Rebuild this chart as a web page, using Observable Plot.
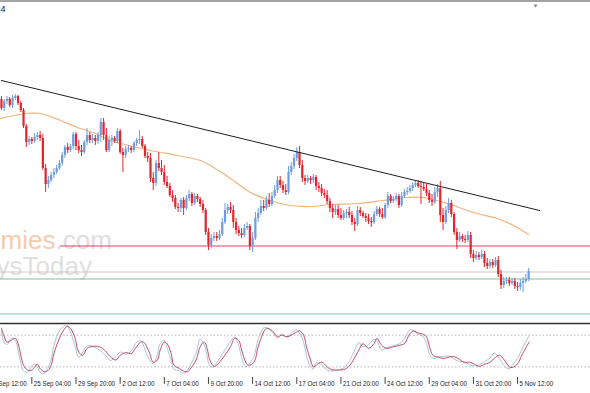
<!DOCTYPE html>
<html>
<head>
<meta charset="utf-8">
<script src="https://cdn.jsdelivr.net/npm/d3@7"></script>
<script src="https://cdn.jsdelivr.net/npm/@observablehq/plot@0.6"></script>
<style>
  html, body { margin: 0; padding: 0; background: #fff; overflow: hidden; }
  #chart { width: 590px; height: 393px; box-sizing: border-box; border-top: 2px solid #a3a3a3; background: #fff; }
  #chart svg { display: block; overflow: hidden; }
</style>
</head>
<body>
<div id="chart"></div>
<script>
// ---- H4 candles (price units) ----
const open = [301,292,299,301,295,302,304,297,290,274,
258,261,259,263,265,262,232,216,220,225,
228,232,237,245,253,250,254,266,254,250,
248,258,265,260,262,259,265,278,265,250,
260,262,259,269,248,245,251,252,250,257,
260,261,254,244,242,222,217,237,232,228,
218,214,205,202,193,192,200,192,202,206,
197,204,201,196,190,168,155,162,164,162,
166,178,190,193,190,178,170,167,165,172,
174,154,162,182,187,194,192,200,196,204,
210,220,215,210,208,228,234,242,248,235,
222,219,222,220,223,214,212,207,205,199,
192,188,191,185,182,187,188,185,178,176,
190,187,184,182,179,178,186,191,186,183,
195,204,199,201,204,195,204,208,209,212,
215,217,214,213,211,207,200,198,208,212,
185,178,190,197,186,168,160,164,161,160,
165,146,142,145,143,146,137,134,138,135,
140,126,115,119,120,117,119,114,113,117,
119,121];
const close = [292,299,301,295,302,304,297,290,274,258,
261,259,263,265,262,232,216,220,225,228,
232,237,245,253,250,254,266,254,250,248,
258,265,260,262,259,265,278,265,250,260,
262,259,269,248,245,251,252,250,257,260,
261,254,244,242,222,217,237,232,228,218,
214,205,202,193,192,200,192,202,206,197,
204,201,196,190,168,155,162,164,162,166,
178,190,193,190,178,170,167,165,172,174,
154,162,182,187,194,192,200,196,204,210,
220,215,210,208,228,234,242,248,235,222,
219,222,220,223,214,212,207,205,199,192,
188,191,185,182,187,188,185,178,176,190,
187,184,182,179,178,186,191,186,183,195,
204,199,201,204,195,204,208,209,212,215,
217,214,213,211,207,200,198,208,212,185,
178,190,197,186,168,160,164,161,160,165,
146,142,145,143,146,137,134,138,135,140,
126,115,119,120,117,119,114,113,117,119,
121,129];
const high = [304,301,304,303,305,306,305,299,292,276,
264,263,267,268,269,266,236,224,228,232,
235,240,248,255,257,256,268,268,260,255,
260,272,268,266,265,268,282,282,272,264,
265,264,272,271,252,254,255,254,259,262,
270,264,256,248,247,228,240,248,240,235,
224,217,210,205,197,202,203,205,210,208,
207,206,203,200,192,172,166,168,168,170,
182,197,196,198,195,182,174,172,176,178,
176,168,188,192,200,200,204,207,208,215,
224,224,219,216,234,238,246,253,254,240,
225,225,224,226,225,218,216,211,210,202,
196,195,195,192,190,191,193,189,182,194,
193,189,187,186,183,189,194,193,192,197,
208,206,204,207,206,208,211,213,215,218,
220,220,219,217,216,210,206,213,216,219,
192,194,202,200,188,172,168,166,165,169,
168,150,149,148,150,149,142,141,141,143,
144,130,123,123,123,122,122,118,121,123,
126,132];
const low = [290,289,296,293,292,300,295,288,272,253,
255,256,257,260,259,230,208,212,218,222,
226,230,234,242,247,248,251,250,247,244,
246,255,257,257,255,256,258,260,248,248,
254,257,257,246,228,242,248,247,248,254,
256,252,242,238,218,210,214,229,225,215,
212,203,198,191,188,188,185,190,199,194,
195,198,193,187,165,150,152,159,159,160,
164,176,186,187,172,166,164,162,163,170,
150,148,160,178,185,189,190,193,194,202,
207,212,207,205,206,225,231,239,232,218,
215,217,216,217,210,208,204,202,196,188,
182,185,182,180,180,182,182,175,169,174,
184,182,178,176,173,176,184,183,181,181,
192,197,197,199,192,193,202,205,207,209,
213,212,196,209,204,197,194,196,203,178,
170,176,187,183,165,151,158,158,157,158,
142,138,140,140,141,133,131,132,132,133,
123,111,112,116,114,115,111,109,110,108,
117,119];

// ---- moving average (orange) ----
const maBar   = [-0.35,9.4,14.1,21.4,27.5,34.1,39.5,54,63.8,72.1,75.7,83,90.2,97.5,104.7,112,119.2,129,138.1,147.1,152.9,161.6,171,179.7,185.5,191];
const maPrice = [282,287,287,280,273,267,260,250,245,240,235,222,208,200,195,194,196,197,200,203,203,197,188,182,175,166];

// ---- trend line ----
const trendBar   = [0, 195];
const trendPrice = [320, 190];

// ---- horizontal levels ----
const levelPrice = [154.5, 128.5, 121.5, 86.5];
const levelFrom  = [21.4, -0.35, -0.35, -0.35];
const levelColor = ["#d9475f", "#c9c9c9", "#7fc39b", "#8cc5ae"];

// ---- stochastic oscillator ----
const stochBar = [0,1,2,3.5,5,6,7,8,9.5,11,12,13,14,15.5,17,18,19,21,23,24,25,26.5,28,29.5,31,33.5,36,38,39.5,41.5,43,45,47,48.5,50.5,51.5,53.5,55,56.5,57.5,59,60,61.5,62.5,64.5,66,67.5,68.5,70.5,72,73.5,74.5,75.5,77,78,80.5,83,84.5,86,87,88.5,89.5,91.5,93,95,96,98,100,101.5,103.5,105,107,108,109.5,110.5,112,113,114,116,118,119.5,121.5,124,125.5,127.5,129.5,131,133,135,136,137.7,139.5,142,144.3,146,148,149.4,151,152.7,154,155.1,156.3,158.1,160,162.4,164.2,166,167.8,169.6,171.4,173.2,175,176.8,178.6,180.4,182.2,184,185.2,187,188.8,190.2,191.2];
const stochD = [93,77,67,70,74,64,42,23,14,14,20,25,17,11,14,23,45,74,93,97,93,77,48,42,55,59,57,48,39,33,42,47,45,55,67,67,48,29,33,52,67,64,45,23,17,12,11,17,33,58,67,55,33,21,23,39,58,74,70,52,29,23,29,58,86,93,89,77,80,77,80,86,88,80,58,33,20,23,29,20,15,14,15,19,33,52,64,55,64,74,61,55,58,61,64,83,88,84,82,77,58,42,39,36,39,39,34,28,29,25,21,25,28,36,42,33,20,19,26,45,58,67];
const stochK = [88,66,62,74,70,52,28,12,10,22,26,20,10,8,20,34,60,88,98,96,86,62,38,48,60,58,50,40,32,40,48,44,50,64,70,60,34,26,44,64,70,56,32,16,12,8,14,24,46,72,62,40,22,20,28,48,68,76,60,38,20,24,40,72,94,94,86,74,82,76,84,90,84,66,42,20,16,28,24,14,12,14,18,26,46,66,58,62,72,70,52,56,60,64,74,90,88,82,78,64,44,36,38,40,40,34,30,30,24,22,24,30,36,46,36,22,16,24,36,56,70,78];
const stochLevels = [20, 80];

// ---- time axis ----
const tickBar = [-5,11,27,43,59,75,91,107,123,139,155,171,187];
const tickLabel = ["22 Sep 12:00","25 Sep 04:00","29 Sep 20:00","2 Oct 12:00","7 Oct 04:00","9 Oct 20:00","14 Oct 12:00","17 Oct 04:00","21 Oct 20:00","24 Oct 12:00","29 Oct 04:00","31 Oct 20:00","5 Nov 12:00"];

const watermarkA = ["economies", ".com"];
const watermarkB = ["ysToday"];
const chartTitle = ["H4"];

const BULL = "#6d9de0", BEAR = "#e0262b";
const XD = [-0.35, 213.42];

const candles = close.map((c, k) => ({k, o: open[k], h: high[k], l: low[k], c, color: c >= open[k] ? BULL : BEAR}));
const ma = maBar.map((k, i) => ({k, p: maPrice[i]}));
const trend = trendBar.map((k, i) => ({k, p: trendPrice[i]}));
const levels = levelPrice.map((p, i) => ({p, from: levelFrom[i], color: levelColor[i]}));
const stoch = stochBar.map((k, i) => ({k, kv: stochK[i], dv: stochD[i]}));
const ticks = tickBar.map((k, i) => ({k, label: tickLabel[i]}));

const main = Plot.plot({
  width: 590, height: 318,
  marginTop: 0, marginBottom: 0, marginLeft: 0, marginRight: 0,
  x: {domain: XD, axis: null},
  y: {domain: [80, 398], axis: null},
  style: {background: "#fff", overflow: "hidden"},
  marks: [
    Plot.text([watermarkA[0]], {frameAnchor: "top-left", dx: 55, dy: 238, text: d => d, textAnchor: "end", lineAnchor: "middle", fontSize: 26, fontFamily: "Liberation Sans", fill: "#f6cbad"}),
    Plot.text([watermarkA[1]], {frameAnchor: "top-left", dx: 55, dy: 238, text: d => d, textAnchor: "start", lineAnchor: "middle", fontSize: 26, fontFamily: "Liberation Sans", fill: "#dedede"}),
    Plot.text(watermarkB, {frameAnchor: "top-left", dx: -4, dy: 264, text: d => d, textAnchor: "start", lineAnchor: "middle", fontSize: 26, fontFamily: "Liberation Sans", fill: "#e0e0e0"}),
    ...levels.map(L => Plot.ruleY([L], {y: "p", x1: "from", x2: () => XD[1], stroke: L.color, strokeWidth: 1})),
    Plot.line(ma, {x: "k", y: "p", stroke: "#f0b47c", strokeWidth: 1.2, curve: "catmull-rom"}),
    ...[BULL, BEAR].map(col => Plot.ruleX(candles.filter(d => d.color === col), {x: "k", y1: "l", y2: "h", stroke: col, strokeWidth: 1})),
    ...[BULL, BEAR].map(col => Plot.ruleX(candles.filter(d => d.color === col), {x: "k", y1: "o", y2: "c", stroke: col, strokeWidth: 2.2})),
    Plot.line(trend, {x: "k", y: "p", stroke: "#1e1e1e", strokeWidth: 1}),
    Plot.text(chartTitle, {frameAnchor: "top-left", dx: 5, dy: 7, text: d => d, textAnchor: "end", lineAnchor: "middle", fontSize: 9, fontFamily: "Liberation Sans", fill: "#222"}),
    Plot.text(["\u25BC"], {frameAnchor: "top-left", dx: 535, dy: 1, text: d => d, textAnchor: "middle", lineAnchor: "top", fontSize: 6, fill: "#8a8a8a"})
  ]
});

const osc = Plot.plot({
  width: 590, height: 73,
  marginTop: 3, marginBottom: 16, marginLeft: 0, marginRight: 0,
  x: {domain: XD, axis: null},
  y: {domain: [0, 102], axis: null},
  style: {background: "#fff", overflow: "hidden"},
  marks: [
    Plot.ruleY([102], {stroke: "#333", strokeWidth: 1.5}),
    Plot.ruleY(stochLevels, {stroke: "#b5b5b5", strokeDasharray: "1.5,2", strokeWidth: 1}),
    Plot.line(stoch, {x: "k", y: "kv", stroke: "#a3bccb", strokeWidth: 0.9, curve: "catmull-rom"}),
    Plot.line(stoch, {x: "k", y: "dv", stroke: "#b83a5e", strokeWidth: 0.9, curve: "catmull-rom"}),
    Plot.ruleX(ticks, {x: "k", y1: 0, y2: -13, stroke: "#444", strokeWidth: 1}),
    Plot.text(ticks, {x: "k", frameAnchor: "bottom", dy: 6, dx: 2, text: "label", textAnchor: "start", lineAnchor: "middle", fontSize: 8, fontFamily: "Liberation Sans", fill: "#1a1a1a"})
  ]
});

document.getElementById("chart").append(main, osc);

// squeeze the time labels to the narrow terminal font width
osc.querySelectorAll("text").forEach(t => {
  const w = t.getComputedTextLength();
  t.setAttribute("textLength", (w * 0.78).toFixed(1));
  t.setAttribute("lengthAdjust", "spacingAndGlyphs");
});
</script>
</body>
</html>
